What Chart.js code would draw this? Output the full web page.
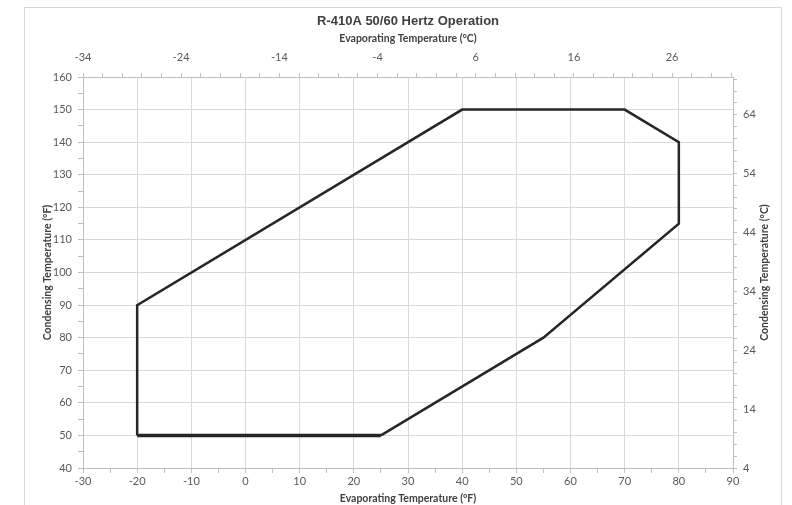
<!DOCTYPE html>
<html>
<head>
<meta charset="utf-8">
<script src="https://cdn.jsdelivr.net/npm/chart.js@4/dist/chart.umd.min.js"></script>
<style>
  html, body { margin: 0; padding: 0; background: #fff; }
  #wrap { position: relative; width: 792px; height: 505px; overflow: hidden; }
  #frame { position: absolute; left: 24px; top: 7px; width: 756px; height: 600px; border: 1px solid #d9d9d9; }
  #chart { position: absolute; left: 0; top: 0; }
</style>
</head>
<body>
<div id="wrap">
  <div id="frame"></div>
  <canvas id="chart" width="792" height="505"></canvas>
</div>
<script>
// operating envelope, evaporating °F vs condensing °F
const envelopeEvapF = [-20, -20, 40, 70, 80, 80, 55, 25, -20];
const envelopeCondF = [50, 90, 150, 150, 140, 115, 80, 50, 50];

// tick labels
const evapTicksF = [-30, -20, -10, 0, 10, 20, 30, 40, 50, 60, 70, 80, 90];
const evapMinorF = [-25, -15, -5, 5, 15, 25, 35, 45, 55, 65, 75, 85];
const condTicksF = [40, 50, 60, 70, 80, 90, 100, 110, 120, 130, 140, 150, 160];
const condMinorF = [45, 55, 65, 75, 85, 95, 105, 115, 125, 135, 145, 155];
const evapTicksC = [-34, -24, -14, -4, 6, 16, 26];
const evapMinorC = [-32, -30, -28, -26, -22, -20, -18, -16, -12, -10, -8, -6, -2, 0, 2, 4, 8, 10, 12, 14, 18, 20, 22, 24, 28, 30, 32];
const condTicksC = [4, 14, 24, 34, 44, 54, 64];
const condMinorC = [6, 8, 10, 12, 16, 18, 20, 22, 26, 28, 30, 32, 36, 38, 40, 42, 46, 48, 50, 52, 56, 58, 60, 62, 66, 68, 70];

const chartTitle = 'R-410A 50/60 Hertz Operation';
const rightTitle = 'Condensing Temperature (°C)';

const AXIS = '#bfbfbf', GRID = '#d9d9d9', TXT = '#595959', TTL = '#404040';
const tickFont = { family: 'Lato', size: 11 };
const titleFont = { family: 'Lato', size: 10.5, weight: 'bold', lineHeight: 1.2 };
const CLEAR = 'rgba(0,0,0,0)';

function axis(major, minor, opts) {
  const all = major.concat(minor).sort((a, b) => a - b);
  return Object.assign({
    type: 'linear',
    afterBuildTicks: s => { s.ticks = all.map(v => ({ value: v })); },
    border: { color: AXIS }
  }, opts, {
    ticks: Object.assign({
      autoSkip: false, maxRotation: 0, color: TXT, font: tickFont,
      callback: v => major.includes(v) ? String(v) : ''
    }, opts.ticks)
  });
}

// chart title centred over the plot, and the right axis title read bottom-up like Excel
const titles = {
  id: 'titles',
  afterDraw(chart) {
    const { ctx, chartArea: a } = chart;
    ctx.save();
    ctx.fillStyle = TTL;
    ctx.textAlign = 'center';
    ctx.textBaseline = 'middle';
    ctx.font = 'bold 13px "Liberation Sans"';
    ctx.fillText(chartTitle, (a.left + a.right) / 2, 21);
    ctx.font = 'bold 10.5px Lato';
    ctx.translate(765, (a.top + a.bottom) / 2);
    ctx.rotate(-Math.PI / 2);
    ctx.fillText(rightTitle, 0, 0);
    ctx.restore();
  }
};

new Chart(document.getElementById('chart'), {
  type: 'scatter',
  data: {
    datasets: [{
      data: envelopeEvapF.map((x, i) => ({ x, y: envelopeCondF[i] })),
      showLine: true,
      borderColor: '#262626',
      borderWidth: 2.5,
      pointRadius: 0,
      segment: { borderWidth: ctx => ctx.p0DataIndex === 7 ? 3.5 : 2.5 }
    }]
  },
  plugins: [titles],
  options: {
    responsive: false,
    animation: false,
    layout: { padding: { top: 32.8 } },
    plugins: {
      legend: { display: false },
      tooltip: { enabled: false },
      title: { display: false }
    },
    scales: {
      x: axis(evapTicksF, evapMinorF, {
        position: 'bottom', min: -30, max: 90,
        afterFit: s => { s.height = 37; },
        grid: {
          tickLength: 5,
          color: ctx => evapTicksF.includes(ctx.tick && ctx.tick.value) ? GRID : CLEAR,
          tickColor: AXIS
        },
        ticks: { padding: 2 },
        title: { display: true, text: 'Evaporating Temperature (°F)', color: TTL, font: titleFont, padding: { top: 0, bottom: 0 } }
      }),
      y: axis(condTicksF, condMinorF, {
        position: 'left', min: 40, max: 160,
        afterFit: s => { s.width = 83; },
        grid: {
          tickLength: 5,
          color: ctx => condTicksF.includes(ctx.tick && ctx.tick.value) ? GRID : CLEAR,
          tickColor: AXIS
        },
        ticks: { padding: 6 },
        title: { display: true, text: 'Condensing Temperature (°F)', color: TTL, font: titleFont, padding: { top: 41, bottom: 0 } }
      }),
      x2: axis(evapTicksC, evapMinorC, {
        position: 'top', min: -34, max: 32.2,
        afterFit: s => { s.height = 44.2; },
        grid: { drawOnChartArea: false, tickLength: 4, tickColor: AXIS },
        ticks: { padding: 9 },
        title: { display: true, text: 'Evaporating Temperature (°C)', color: TTL, font: titleFont, padding: { top: 0, bottom: 0 } }
      }),
      y2: axis(condTicksC, condMinorC, {
        position: 'right', min: 4, max: 70.4,
        afterFit: s => { s.width = 59; },
        grid: { drawOnChartArea: false, tickLength: 4, tickColor: AXIS },
        ticks: { padding: 6 },
        title: { display: false }
      })
    }
  }
});
</script>
</body>
</html>
